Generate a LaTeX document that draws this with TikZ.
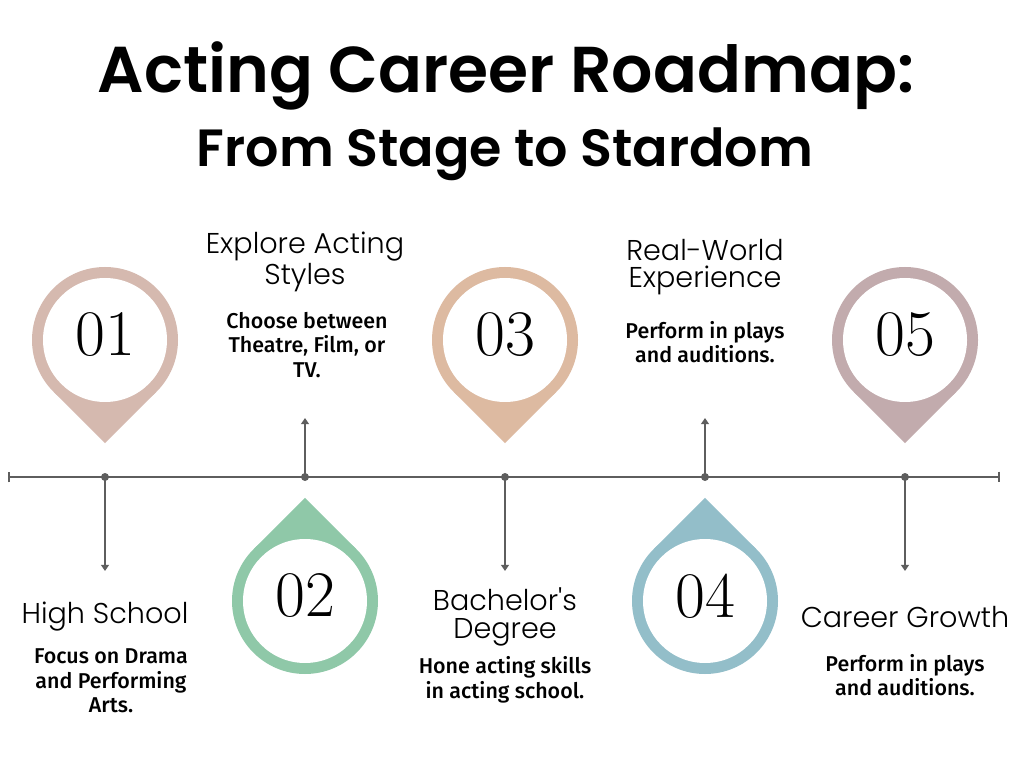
\documentclass[tikz,border=0pt]{standalone}
\usepackage{fontspec}
\newfontfamily\titlefont{Poppins SemiBold}
\newfontfamily\headfont{Poppins Light}
\newfontfamily\bodyfont{Fira Sans Medium}
\definecolor{pinone}{HTML}{D5B9AF}
\definecolor{pintwo}{HTML}{8FC8A8}
\definecolor{pinthree}{HTML}{DDBAA1}
\definecolor{pinfour}{HTML}{93BEC9}
\definecolor{pinfive}{HTML}{C2ABAD}
\definecolor{rule}{HTML}{5E5E5E}
\usetikzlibrary{arrows.meta, positioning}
\tikzset{
  head/.style={font=\headfont\fontsize{16.3}{15.5}\selectfont, align=center, inner sep=0pt},
  body/.style={font=\bodyfont\fontsize{12.2}{14}\selectfont, align=center, inner sep=0pt},
  num/.style={font=\fontsize{37}{37}\selectfont, inner sep=0pt},
  stem/.style={-{Triangle[length=3.5pt,width=4.5pt]}, line width=1.1pt, color=rule},
  axis/.style={{Bar[width=6pt]}-{Bar[width=6pt]}, line width=1.1pt, color=rule},
}

\begin{document}
\begin{tikzpicture}[x=0.02cm,y=0.02cm]
\fill[white] (0,0) rectangle (1024,768);
\useasboundingbox (0,0) rectangle (1024,768);
\node[anchor=base, font=\titlefont\fontsize{36.9}{37}\selectfont] (title) at (506,675) {Acting Career Roadmap:};
\node[anchor=base, font=\titlefont\fontsize{29.8}{30}\selectfont] (subtitle) at (505,601) {From Stage to Stardom};
\draw[axis] (8,291) coordinate (l) -- (1000,291) coordinate (r);
% pins: index/x/centre y/tip angle/colour/end of stem
\foreach \i/\x/\y/\a/\c/\e in {1/105/428/270/pinone/197, 2/305/167/90/pintwo/350,
    3/505/428/270/pinthree/197, 4/705/167/90/pinfour/350, 5/905/428/270/pinfive/197}{
  \fill[\c] (\x,\y) circle[radius=73];
  \fill[\c] (\x,\y) +(\a-45:73) -- +(\a:103.2) -- +(\a+45:73) -- cycle;
  \fill[white] (\x,\y) circle[radius=62];
  \node[num] (n\i) at (\x,\y+5) {0\i};
  \coordinate (d\i) at (\x,291);
  \coordinate (e\i) at (\x,\e);
  \draw[stem] (d\i) -- (e\i);
  \fill[rule] (d\i) circle[radius=4];
}
\node[head] (h1) at (105,151) {High School};
\node[body] (b1) at (111,87) {Focus on Drama\\and Performing\\Arts.};
\node[head] (h2) at (305,506) {Explore Acting\\Styles};
\node[body] (b2) at (307,423) {Choose between\\Theatre, Film, or\\TV.};
\node[head] (h3) at (505,151) {Bachelor's\\Degree};
\node[body] (b3) at (505,88) {Hone acting skills\\in acting school.};
\node[head] (h4) at (705,501) {Real-World\\Experience};
\node[body] (b4) at (705,426) {Perform in plays\\and auditions.};
\node[head] (h5) at (905,151) {Career Growth};
\node[body] (b5) at (905,93) {Perform in plays\\and auditions.};
\end{tikzpicture}
\end{document}
